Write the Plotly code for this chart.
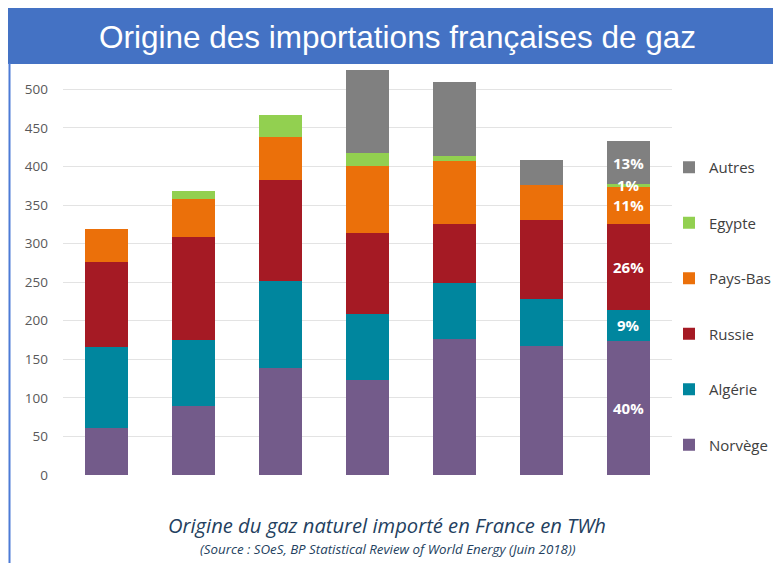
import plotly.graph_objects as go

# ---- data ----
categories = ["c1", "c2", "c3", "c4", "c5", "c6", "c7"]
series_names = ["Norvège", "Algérie", "Russie", "Pays-Bas", "Egypte", "Autres"]
norvege = [61, 89, 139, 123, 176, 167, 174]
algerie = [105, 86, 113, 86, 73, 61, 40]
russie = [110, 133, 130, 105, 77, 102, 112]
pays_bas = [43, 50, 56, 86, 81, 46, 48]
egypte = [0, 10, 29, 17, 7, 0, 3]
autres = [0, 0, 0, 108, 96, 33, 56]
last_bar_pct = ["40%", "9%", "26%", "11%", "1%", "13%"]
y_ticks = [0, 50, 100, 150, 200, 250, 300, 350, 400, 450, 500]

series_values = [norvege, algerie, russie, pays_bas, egypte, autres]
colors = ["#735B8A", "#00869E", "#A51A24", "#EB700A", "#92D050", "#808080"]

# page is offset by the 8px default body margin: work in page pixels
OFF = 8
W, H = 781, 563
PL, PR, PT, PB = 63, 672, 64, 475   # plot area in page pixels
ML, MT = PL - OFF, PT - OFF
MR = W - (PR - OFF)
MB = H - (PB - OFF)
PW, PH = PR - PL, PB - PT


def px2x(px):
    return (px - PL) / PW


def py2y(py):
    return (PB - py) / PH


fig = go.Figure()
n = len(series_names)
for i, (name, vals, col) in enumerate(zip(series_names, series_values, colors)):
    fig.add_trace(go.Bar(
        x=categories, y=vals, name=name, marker=dict(color=col, line=dict(width=0)),
        width=0.5, legendgroup=name, legendrank=n - i, hoverinfo="name+y",
    ))

# percentage labels on last bar
annotations = []
base = 0
for vals, lab in zip(series_values, last_bar_pct):
    v = vals[-1]
    annotations.append(dict(
        x=categories[-1], y=base + v / 2, xref="x", yref="y", text="<b>" + lab + "</b>",
        showarrow=False, font=dict(family="Open Sans", size=15, color="white"),
    ))
    base += v

# title banner text
annotations.append(dict(
    x=px2x(397), y=py2y(37), xref="paper", yref="paper",
    text="Origine des importations françaises de gaz", showarrow=False,
    font=dict(family="Liberation Sans", size=31.5, color="white"),
    xanchor="center", yanchor="middle",
))
# caption
annotations.append(dict(
    x=px2x(387), y=py2y(525), xref="paper", yref="paper",
    text="<i>Origine du gaz naturel importé en France en TWh</i>", showarrow=False,
    font=dict(family="Open Sans", size=20.2, color="#243F60"),
    xanchor="center", yanchor="middle",
))
annotations.append(dict(
    x=px2x(388), y=py2y(549), xref="paper", yref="paper",
    text="<i>(Source : SOeS, BP Statistical Review of World Energy (Juin 2018))</i>",
    showarrow=False, font=dict(family="Open Sans", size=13.3, color="#243F60"),
    xanchor="center", yanchor="middle",
))

shapes = [
    dict(type="rect", xref="paper", yref="paper", x0=px2x(0), x1=px2x(800),
         y0=py2y(64), y1=py2y(0), fillcolor="#4472C4", line=dict(width=0), layer="below"),
    dict(type="line", xref="paper", yref="paper", x0=px2x(9.5), x1=px2x(9.5),
         y0=py2y(580), y1=py2y(63), line=dict(color="#4C7BD6", width=2)),
]

fig.update_layout(
    width=W, height=H,
    margin=dict(l=ML, r=MR, t=MT, b=MB),
    paper_bgcolor="white", plot_bgcolor="white",
    barmode="stack",
    showlegend=True,
    legend=dict(
        x=px2x(669), y=py2y(151), xanchor="left", yanchor="top",
        traceorder="grouped", tracegroupgap=33,
        font=dict(family="Open Sans", size=15, color="#404040"),
        bgcolor="rgba(0,0,0,0)",
    ),
    xaxis=dict(showticklabels=False, showgrid=False, zeroline=False, showline=False,
               ticks="", range=[-0.5, 6.5]),
    yaxis=dict(range=[0, PH / 0.7714], tickvals=y_ticks, showgrid=True,
               gridcolor="#E3E3E3", gridwidth=1, zeroline=False, showline=False,
               tickfont=dict(family="Open Sans", size=13.5, color="#595959"), ticks="",
               ticklabelstandoff=14),
    annotations=annotations,
    shapes=shapes,
)

fig.write_html("out.html")
